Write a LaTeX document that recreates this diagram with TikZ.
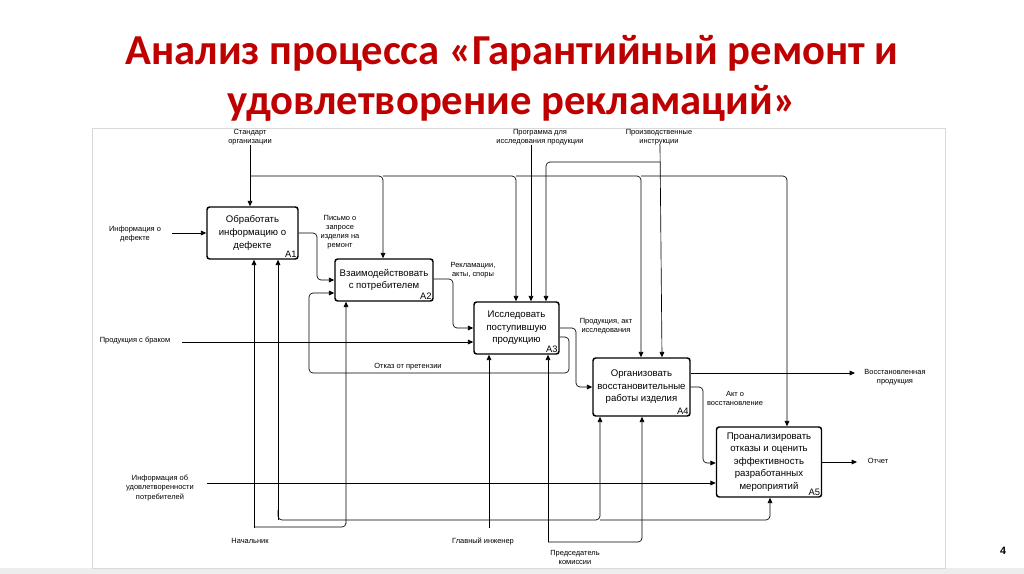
\documentclass[tikz,border=0pt]{standalone}
\usepackage{fontspec}
\setmainfont{Liberation Sans}
\newfontfamily\titlefont{Carlito}
\usetikzlibrary{arrows.meta}
\begin{document}
\begin{tikzpicture}[x=0.75pt,y=-0.75pt,
  proc/.style={draw,line width=1.1pt,rounded corners=2pt,align=center,font=\fontsize{7.2}{9.4}\selectfont,inner sep=0pt},
  lab/.style={font=\fontsize{5.6}{6.8}\selectfont,align=center,inner sep=0pt},
  idl/.style={font=\fontsize{7}{8}\selectfont,inner sep=1.5pt,anchor=south east},
  con/.style={line width=0.5pt,rounded corners=3pt,-{Triangle[length=4pt,width=3.5pt]}},
  ln/.style={line width=0.5pt,rounded corners=3pt}]
\useasboundingbox (0,0) rectangle (1024,574);
\fill[white] (0,0) rectangle (1024,574);
\fill[black!7] (0,568) rectangle (1024,574);
\draw[black!15,line width=0.5pt] (92,128) rectangle (945,568);
\node[font=\titlefont\bfseries\fontsize{32}{37.5}\selectfont,text=red!75!black,align=center] (title) at (512,78) {Анализ процесса «Гарантийный ремонт и\\удовлетворение рекламаций»};
\node[font=\fontsize{8}{9}\selectfont\bfseries] (pg) at (1003,551) {4};
% boxes (sizes in px * 0.75)
\node[proc,minimum width=68.25pt,minimum height=39pt] (A1) at (252.5,233) {Обработать\\информацию о\\дефекте};
\node[proc,minimum width=73.5pt,minimum height=31.5pt] (A2) at (384,280) {Взаимодействовать\\с потребителем};
\node[proc,minimum width=63.75pt,minimum height=39pt] (A3) at (516.5,328) {Исследовать\\поступившую\\продукцию};
\node[proc,minimum width=72.75pt,minimum height=43.5pt] (A4) at (641.5,387) {Организовать\\восстановительные\\работы изделия};
\node[proc,minimum width=78.75pt,minimum height=52.5pt] (A5) at (769,462) {Проанализировать\\отказы и оценить\\эффективность\\разработанных\\мероприятий};
\node[idl] at (A1.south east) {A1};
\node[idl] at (A2.south east) {A2};
\node[idl] at (A3.south east) {A3};
\node[idl] at (A4.south east) {A4};
\node[idl] at (A5.south east) {A5};
% labels
\node[lab] (ls) at (250,137) {Стандарт\\организации};
\node[lab] (lp) at (540,137) {Программа для\\исследования продукции};
\node[lab] (li) at (659,137) {Производственные\\инструкции};
\node[lab] (ld) at (135,234) {Информация о\\дефекте};
\node[lab] (lb) at (135,341) {Продукция с браком};
\node[lab] (lu) at (160,488) {Информация об\\удовлетворенности\\потребителей};
\node[lab] (ln) at (250,541) {Начальник};
\node[lab] (lg) at (483,541) {Главный инженер};
\node[lab] (lc) at (575,557) {Председатель\\комиссии};
\node[lab] (lr) at (895,377) {Восстановленная\\продукция};
\node[lab] (lo) at (878,461) {Отчет};
\node[lab] at (340,232) {Письмо о\\запросе\\изделия на\\ремонт};
\node[lab] at (473,270) {Рекламации,\\акты, споры};
\node[lab] at (408,367) {Отказ от  претензии};
\node[lab] at (606,326) {Продукция, акт\\исследования};
\node[lab] at (735,398) {Акт о\\восстановление};
% controls
\draw[con] (250,145) -- (A1.north -| 250,0);
\draw[con] (250,176) -| (A2.north -| 383,0);
\draw[con] (383,176) -| (A3.north -| 516,0);
\draw[con] (516,176) -| (A4.north -| 641,0);
\draw[con] (641,176) -| (A5.north -| 787,0);
\draw[con] (531,145) -- (A3.north -| 531,0);
\draw[con] (660,145) -- (A4.north -| 662,0);
\draw[con] (660,162) -| (A3.north -| 546,0);
% inputs / outputs
\draw[con] (172,233) -- (A1.west);
\draw[con] (A1.east) -| (317,280) -- (A2.west |- 0,280);
\draw[con] (A2.east |- 0,279) -| (453,328) -- (A3.west |- 0,328);
\draw[con] (182,342) -- (A3.west |- 0,342);
\draw[con] (A3.east |- 0,337) -| (569,373) -| (309,293) -- (A2.west |- 0,293);
\draw[con] (A3.east |- 0,328) -| (576,387) -- (A4.west |- 0,387);
\draw[con] (A4.east |- 0,373) -- (855,373);
\draw[con] (A4.east |- 0,387) -| (703,463) -- (A5.west |- 0,463);
\draw[con] (A5.east |- 0,462) -- (857,462);
\draw[con] (207,483) -- (A5.west |- 0,483);
% mechanisms
\draw[con] (254,528) -- (A1.south -| 254,0);
\draw[con] (254,527) -| (346,520) -- (A2.south -| 346,0);
\draw[con] (278,520) -- (A1.south -| 278,0);
\draw[con] (278,510) |- (600,520) -- (A4.south -| 600,0);
\draw[con] (600,520) -| (A5.south -| 770,0);
\draw[con] (489,528) -- (A3.south -| 489,0);
\draw[con] (548,542) -- (A3.south -| 548,0);
\draw[con] (548,542) -| (A4.south -| 642,0);
\end{tikzpicture}
\end{document}
